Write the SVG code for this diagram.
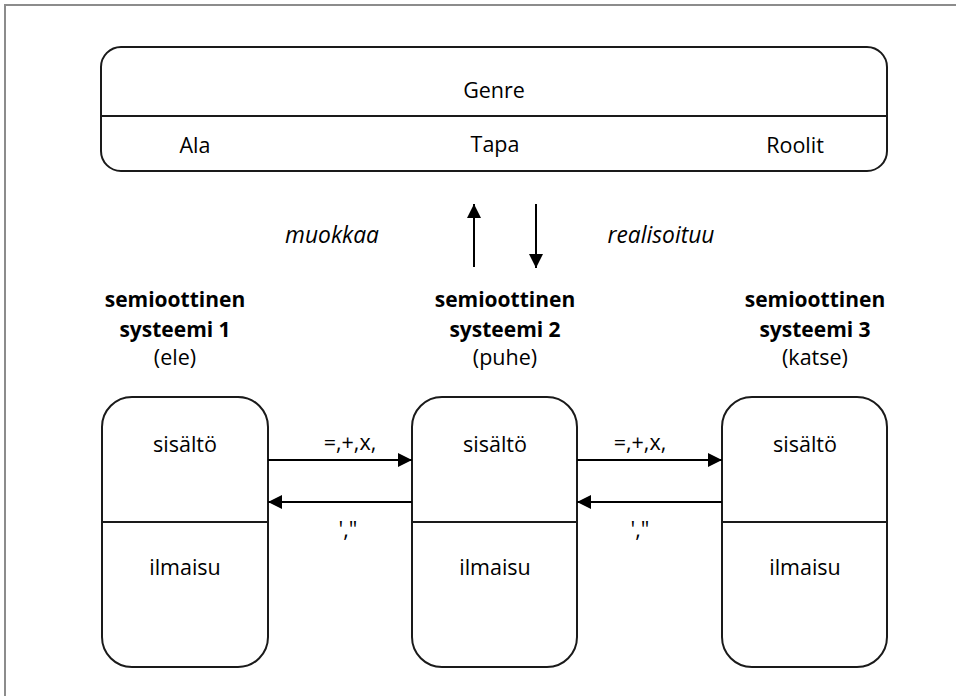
<svg xmlns="http://www.w3.org/2000/svg" width="956" height="696" viewBox="0 0 956 696">
  <style>
    .frame { fill: none; stroke: #8c8c8c; stroke-width: 2; }
    .box { fill: #ffffff; stroke: #1a1a1a; stroke-width: 2; }
    .div { stroke: #1a1a1a; stroke-width: 2; }
    .conn { stroke: #000000; stroke-width: 2; fill: none; }
    text { font-family: "Open Sans", "Noto Sans", "Liberation Sans", sans-serif; font-size: 21.5px; fill: #000000; text-anchor: middle; }
    .b { font-weight: bold; font-size: 21px; }
    .i { font-style: italic; font-size: 22.8px; }
  </style>
  <defs>
    <marker id="head" viewBox="0 0 14 14" refX="14" refY="7" markerWidth="14" markerHeight="14" markerUnits="userSpaceOnUse" orient="auto">
      <path d="M0,0 L14,7 L0,14 Z" fill="#000000"/>
    </marker>
  </defs>

  <rect width="956" height="696" fill="#ffffff"/>
  <!-- page frame (top and left edges) -->
  <path class="frame" d="M5,696 L5,5 L956,5"/>

  <!-- genre box -->
  <g id="genre">
    <rect class="box" x="101" y="47" width="786" height="124" rx="20" ry="20"/>
    <line class="div" x1="101" y1="116" x2="887" y2="116"/>
    <text x="494" y="98">Genre</text>
    <text x="195" y="153">Ala</text>
    <text x="495" y="152">Tapa</text>
    <text x="795" y="153">Roolit</text>
  </g>

  <!-- system headings -->
  <g id="label1">
    <text class="b" x="175" y="307">semioottinen</text>
    <text class="b" x="175" y="337">systeemi 1</text>
    <text x="175" y="365">(ele)</text>
  </g>
  <g id="label2">
    <text class="b" x="505" y="307">semioottinen</text>
    <text class="b" x="505" y="337">systeemi 2</text>
    <text x="505" y="365">(puhe)</text>
  </g>
  <g id="label3">
    <text class="b" x="815" y="307">semioottinen</text>
    <text class="b" x="815" y="337">systeemi 3</text>
    <text x="815" y="365">(katse)</text>
  </g>

  <!-- system boxes -->
  <g id="system1">
    <rect class="box" x="102" y="397" width="166" height="270" rx="30" ry="30"/>
    <line class="div" x1="102" y1="522" x2="268" y2="522"/>
    <text x="185" y="452">sisältö</text>
    <text x="185" y="575">ilmaisu</text>
  </g>
  <g id="system2">
    <rect class="box" x="412" y="397" width="165" height="270" rx="30" ry="30"/>
    <line class="div" x1="412" y1="522" x2="577" y2="522"/>
    <text x="495" y="452">sisältö</text>
    <text x="495" y="575">ilmaisu</text>
  </g>
  <g id="system3">
    <rect class="box" x="722" y="397" width="165" height="270" rx="30" ry="30"/>
    <line class="div" x1="722" y1="522" x2="887" y2="522"/>
    <text x="805" y="452">sisältö</text>
    <text x="805" y="575">ilmaisu</text>
  </g>

  <!-- connectors -->
  <g id="connectors">
    <line class="conn" x1="474" y1="267" x2="474" y2="204" marker-end="url(#head)"/>
    <line class="conn" x1="536" y1="204" x2="536" y2="268" marker-end="url(#head)"/>
    <line class="conn" x1="268" y1="460" x2="412" y2="460" marker-end="url(#head)"/>
    <line class="conn" x1="412" y1="502" x2="268" y2="502" marker-end="url(#head)"/>
    <line class="conn" x1="577" y1="460" x2="722" y2="460" marker-end="url(#head)"/>
    <line class="conn" x1="722" y1="502" x2="577" y2="502" marker-end="url(#head)"/>
    <text class="i" x="332" y="243">muokkaa</text>
    <text class="i" x="661" y="243">realisoituu</text>
    <text x="350" y="450">=,+,x,</text>
    <text x="348" y="537">',"</text>
    <text x="640" y="450">=,+,x,</text>
    <text x="640" y="537">',"</text>
  </g>
</svg>
